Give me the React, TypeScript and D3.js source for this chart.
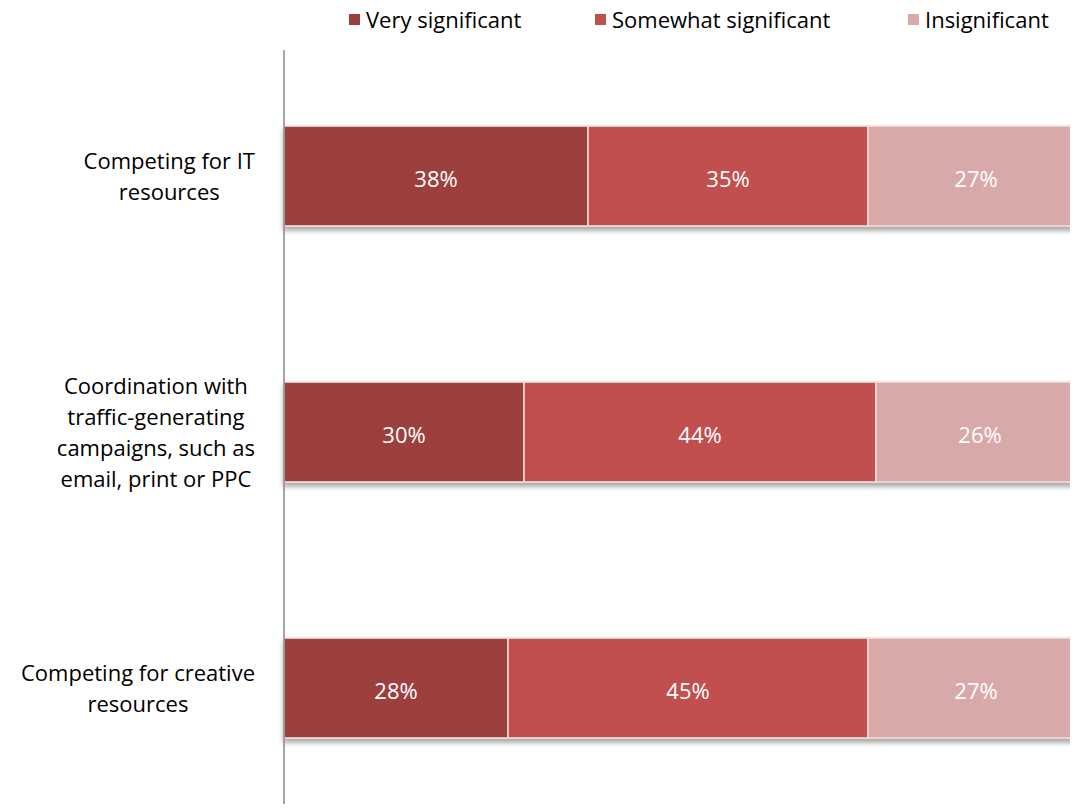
import React, { useRef, useEffect } from "react";
import * as d3 from "d3";

const categories = [
  ["Competing for IT", "resources"],
  ["Coordination with", "traffic-generating", "campaigns, such as", "email, print or PPC"],
  ["Competing for creative", "resources"],
];
const seriesNames = ["Very significant", "Somewhat significant", "Insignificant"];
const verySignificant = [38, 30, 28];
const somewhatSignificant = [35, 44, 45];
const insignificant = [27, 26, 27];
const colors = ["#9D3F3D", "#C0504D", "#D9A9A9"];

const W = 1078;
const H = 812;
const FONT = "'Open Sans', sans-serif";

export default function App() {
  const svgRef = useRef<SVGSVGElement>(null);

  useEffect(() => {
    const svg = d3.select(svgRef.current);
    svg.selectAll("*").remove();

    const left = 284;
    const x = d3.scaleLinear().domain([0, 100]).range([left, left + 800]);
    const y = d3
      .scaleBand()
      .domain(categories.map((c, i) => String(i)))
      .range([48, 816])
      .paddingInner(0.61)
      .paddingOuter(0.305);

    const rows = categories.map((c, i) => ({
      key: String(i),
      values: [verySignificant[i], somewhatSignificant[i], insignificant[i]],
    }));
    const stack = rows.map((r) => {
      let acc = 0;
      return r.values.map((v, j) => {
        const s = { x0: acc, x1: acc + v, v, j, key: r.key };
        acc += v;
        return s;
      });
    });

    const defs = svg.append("defs");
    const f = defs
      .append("filter")
      .attr("id", "shadow")
      .attr("x", "-5%")
      .attr("y", "-20%")
      .attr("width", "110%")
      .attr("height", "150%");
    f.append("feDropShadow")
      .attr("dx", 0)
      .attr("dy", 4)
      .attr("stdDeviation", 2.5)
      .attr("flood-color", "#000")
      .attr("flood-opacity", 0.35);

    // bars
    const g = svg.append("g");
    stack.forEach((row) => {
      const rg = g.append("g").attr("filter", "url(#shadow)");
      rg.selectAll("rect")
        .data(row)
        .join("rect")
        .attr("x", (d) => x(d.x0))
        .attr("y", (d) => y(d.key)!)
        .attr("width", (d) => x(d.x1) - x(d.x0))
        .attr("height", y.bandwidth())
        .attr("fill", (d) => colors[d.j])
        .attr("stroke", "#F2DCDB")
        .attr("stroke-width", 1.5);
      g.selectAll(null)
        .data(row)
        .join("text")
        .attr("x", (d) => (x(d.x0) + x(d.x1)) / 2)
        .attr("y", (d) => y(d.key)! + y.bandwidth() / 2 + 3)
        .attr("dy", "0.35em")
        .attr("text-anchor", "middle")
        .attr("fill", "#fff")
        .attr("font-family", FONT)
        .attr("font-size", 22)
        .text((d) => `${d.v}%`);
    });

    // axis line
    svg
      .append("line")
      .attr("x1", left)
      .attr("x2", left)
      .attr("y1", 50)
      .attr("y2", H)
      .attr("stroke", "#888")
      .attr("stroke-width", 1.5);

    // category labels
    const lineH = 31;
    categories.forEach((lines, i) => {
      const cy = y(String(i))! + y.bandwidth() / 2;
      const t = svg
        .append("text")
        .attr("font-family", FONT)
        .attr("font-size", 22)
        .attr("fill", "#000")
        .attr("text-anchor", "middle");
      lines.forEach((ln, k) => {
        t.append("tspan")
          .attr("x", 0)
          .attr("y", cy + (k - (lines.length - 1) / 2) * lineH + 1)
          .attr("dy", "0.35em")
          .text(ln);
      });
      const w = (t.node() as SVGTextElement).getBBox().width;
      t.selectAll("tspan").attr("x", 255 - w / 2);
    });

    // legend
    const legendX = [349, 595, 908];
    seriesNames.forEach((name, i) => {
      svg
        .append("rect")
        .attr("x", legendX[i])
        .attr("y", 14)
        .attr("width", 11)
        .attr("height", 11)
        .attr("fill", colors[i]);
      svg
        .append("text")
        .attr("x", legendX[i] + 17)
        .attr("y", 20)
        .attr("dy", "0.35em")
        .attr("font-family", FONT)
        .attr("font-size", 22)
        .attr("fill", "#000")
        .text(name);
    });
  }, []);

  return (
    <div style={{ margin: -8, width: W, height: H, overflow: "hidden", background: "#fff" }}>
      <svg ref={svgRef} width={W} height={H} style={{ display: "block" }} />
    </div>
  );
}
